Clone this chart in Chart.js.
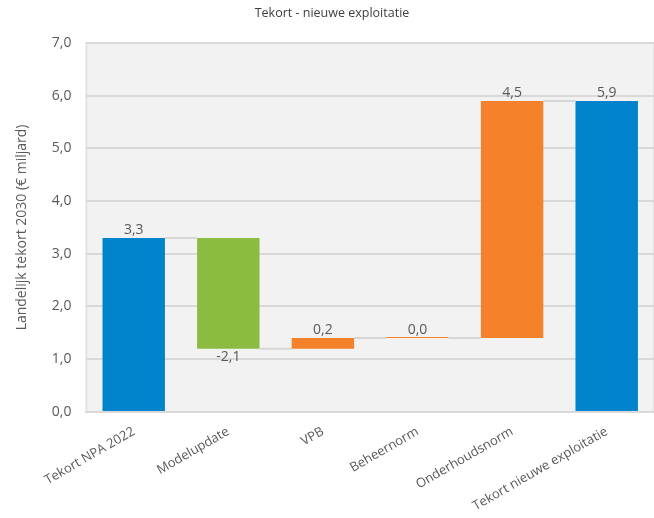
<!DOCTYPE html>
<html>
<head>
<meta charset="utf-8">
<script src="https://cdn.jsdelivr.net/npm/chart.js@4.4.1/dist/chart.umd.min.js"></script>
<style>
  html, body { margin: 0; padding: 0; background: #fff; overflow: hidden; }
  #wrap { width: 654px; height: 518px; }
</style>
</head>
<body>
<div id="wrap"><canvas id="chart"></canvas></div>
<script>
const categories = ['Tekort NPA 2022', 'Modelupdate', 'VPB', 'Beheernorm', 'Onderhoudsnorm', 'Tekort nieuwe exploitatie'];
const steps = [3.3, -2.1, 0.2, 0.0, 4.5, 5.9];
const isTotal = [true, false, false, false, false, true];
const barColors = ['#0083ca', '#8bbb40', '#f5822a', '#f5822a', '#f5822a', '#0083ca'];
const yTicks = [0, 1, 2, 3, 4, 5, 6, 7];

// floating ranges for the waterfall
let running = 0;
const ranges = [];
const levels = [];
steps.forEach((v, i) => {
    if (isTotal[i]) {
        ranges.push([0, v]);
        running = v;
    } else {
        ranges.push([running, running + v]);
        running = running + v;
    }
    levels.push(running);
});

const fmt = v => v.toFixed(1).replace('.', ',');

// gray plot background
const plotBg = {
    id: 'plotBg',
    beforeDraw(chart) {
        const { ctx, chartArea: a } = chart;
        ctx.save();
        ctx.fillStyle = '#f2f2f2';
        ctx.fillRect(a.left, a.top, a.right - a.left, a.bottom - a.top);
        ctx.strokeStyle = '#e3e3e3';
        ctx.lineWidth = 2;
        ctx.strokeRect(a.left, a.top, a.right - a.left, a.bottom - a.top);
        ctx.restore();
    }
};

// connector lines + value labels
const waterfall = {
    id: 'waterfall',
    afterDatasetsDraw(chart) {
        const { ctx } = chart;
        const y = chart.scales.y;
        const bars = chart.getDatasetMeta(0).data;
        ctx.save();
        ctx.strokeStyle = '#d6d6d6';
        ctx.lineWidth = 2;
        for (let i = 0; i < bars.length - 1; i++) {
            const py = y.getPixelForValue(levels[i]);
            const x1 = bars[i].x + bars[i].width / 2;
            const x2 = bars[i + 1].x - bars[i + 1].width / 2;
            ctx.beginPath();
            ctx.moveTo(x1, py);
            ctx.lineTo(x2, py);
            ctx.stroke();
        }
        ctx.fillStyle = '#595959';
        ctx.font = '14px "Open Sans", sans-serif';
        ctx.textAlign = 'center';
        bars.forEach((b, i) => {
            const r = ranges[i];
            if (steps[i] < 0) {
                ctx.textBaseline = 'top';
                ctx.fillText(fmt(steps[i]), b.x, y.getPixelForValue(Math.min(r[0], r[1])) + 1);
            } else {
                ctx.textBaseline = 'bottom';
                ctx.fillText(fmt(steps[i]), b.x, y.getPixelForValue(Math.max(r[0], r[1])) - 1);
            }
        });
        ctx.restore();
    }
};

new Chart(document.getElementById('chart'), {
    type: 'bar',
    data: {
        labels: categories,
        datasets: [{
            data: ranges,
            backgroundColor: barColors,
            borderWidth: 0,
            minBarLength: 1,
            barPercentage: 0.66,
            categoryPercentage: 1
        }]
    },
    options: {
        responsive: true,
        maintainAspectRatio: false,
        animation: false,
        layout: { padding: { left: 10, right: 0, top: 0, bottom: 0 } },
        plugins: {
            legend: { display: false },
            tooltip: { enabled: false },
            title: {
                display: true,
                text: 'Tekort - nieuwe exploitatie',
                color: '#404040',
                font: { family: 'Open Sans', size: 12.5, weight: 'normal' },
                padding: { top: 6, bottom: 22 }
            }
        },
        scales: {
            x: {
                grid: { display: false },
                border: { color: '#d9d9d9', width: 2 },
                ticks: {
                    color: '#595959',
                    font: { family: 'Open Sans', size: 13 },
                    maxRotation: 30,
                    minRotation: 30,
                    padding: 4,
                    autoSkip: false
                }
            },
            y: {
                min: 0,
                max: 7,
                afterBuildTicks(axis) {
                    axis.ticks = yTicks.map(v => ({ value: v }));
                },
                grid: { color: '#d9d9d9', lineWidth: 2, drawTicks: false },
                border: { display: false },
                ticks: {
                    color: '#595959',
                    font: { family: 'Open Sans', size: 14 },
                    padding: 15,
                    callback: v => fmt(v)
                },
                title: {
                    display: true,
                    text: 'Landelijk tekort 2030 (€ miljard)',
                    color: '#595959',
                    font: { family: 'Open Sans', size: 14 },
                    padding: { bottom: 6 }
                }
            }
        }
    },
    plugins: [plotBg, waterfall]
});
</script>
</body>
</html>
